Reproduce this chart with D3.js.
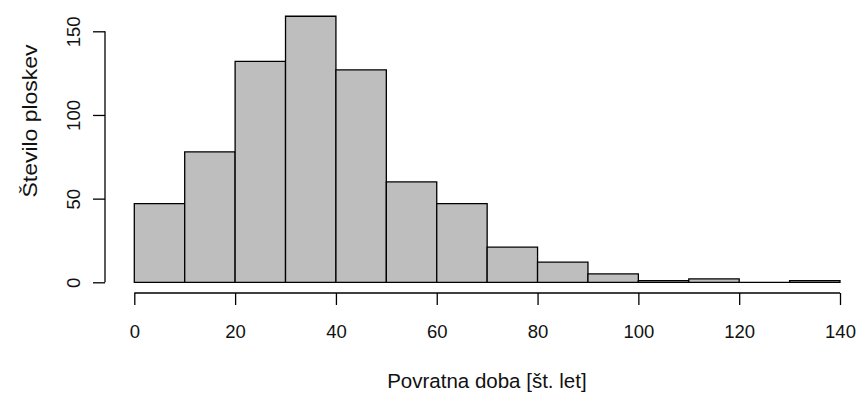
<!DOCTYPE html>
<html>
<head>
<meta charset="utf-8">
<script src="https://cdn.jsdelivr.net/npm/d3@7"></script>
<style>
  body { margin: 0; background: #fff; }
  text { font-family: "Liberation Sans", Arial, sans-serif; fill: #111; }
</style>
</head>
<body>
<div id="chart"></div>
<script>
// Histogram bins (povratna doba, 10-year classes)
const binStarts = [0, 10, 20, 30, 40, 50, 60, 70, 80, 90, 100, 110, 120, 130]
const binWidth = 10
const counts = [47, 78, 132, 159, 127, 60, 47, 21, 12, 5, 1, 2, 0, 1]

const xTicks = [0, 20, 40, 60, 80, 100, 120, 140]
const yTicks = [0, 50, 100, 150]

const xTitle = "Povratna doba [št. let]"
const yTitle = "Število ploskev"

const width = 862, height = 394

const svg = d3.select("#chart")
   .append("svg")
   .attr("width", width)
   .attr("height", height)

const x = d3.scaleLinear().domain([0, 140]).range([134.3, 840])
const y = d3.scaleLinear().domain([0, 150]).range([282.3, 31.3])

// stolpci kot poti, da se vidi tudi prazen razred (višina 0)
svg.append("g")
   .selectAll("path")
   .data(binStarts)
   .join("path")
   .attr("d", (d, i) => {
      const x0 = x(d), x1 = x(d + binWidth)
      const y0 = y(0), y1 = y(counts[i])
      return `M${x0},${y0}V${y1}H${x1}V${y0}Z`
   })
   .attr("fill", "#bebebe")
   .attr("stroke", "#000")
   .attr("stroke-width", 1.3)
   .attr("stroke-linejoin", "miter")

// x os (R style: spodaj, odmaknjena)
const xAxis = svg.append("g")
   .attr("transform", "translate(0,293)")
   .call(d3.axisBottom(x).tickValues(xTicks).tickSize(12).tickPadding(20).tickSizeOuter(0))
xAxis.select(".domain").attr("d", `M${x(0)},0H${x(140)}`).attr("stroke-width", 1.3)
xAxis.selectAll(".tick line").attr("stroke-width", 1.3)
xAxis.selectAll(".tick text")
   .attr("font-size", 18.5)
   .attr("fill", "#111")

// y os
const yAxis = svg.append("g")
   .attr("transform", "translate(105,0)")
   .call(d3.axisLeft(y).tickValues(yTicks).tickSize(12).tickSizeOuter(0))
yAxis.select(".domain").attr("d", `M0,${y(0)}V${y(150)}`).attr("stroke-width", 1.3)
yAxis.selectAll(".tick line").attr("stroke-width", 1.3)
yAxis.selectAll(".tick text")
   .attr("x", null).attr("dy", null)
   .attr("text-anchor", "middle")
   .attr("transform", "translate(-25,0) rotate(-90)")
   .attr("font-size", 18.5)
   .attr("fill", "#111")

xAxis.selectAll("text").attr("font-family", null)
yAxis.selectAll("text").attr("font-family", null)

// naslova osi
svg.append("text")
   .attr("x", (105.8 + 868) / 2)
   .attr("y", 388)
   .attr("text-anchor", "middle")
   .attr("font-size", 20.5)
   .text(xTitle)

// v referenci je napis na y osi nekoliko raztegnjen
svg.append("text")
   .attr("transform", "translate(37,121) rotate(-90) scale(1.12,1)")
   .attr("text-anchor", "middle")
   .attr("font-size", 20.5)
   .text(yTitle)
</script>
</body>
</html>
